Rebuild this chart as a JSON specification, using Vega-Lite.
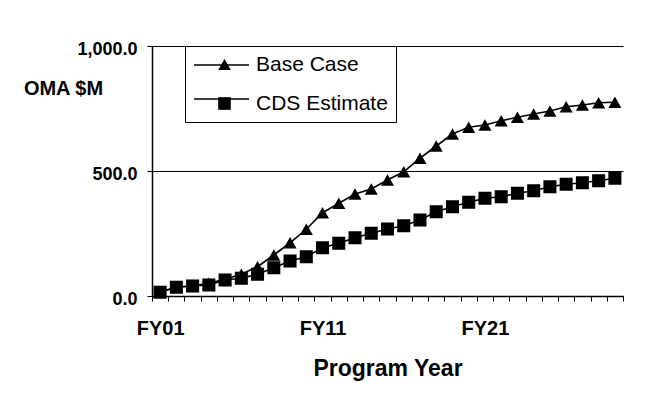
{
  "$schema": "https://vega.github.io/schema/vega-lite/v6.json",
  "width": 471,
  "height": 250,
  "autosize": {"type": "none"},
  "padding": {"left": 152, "top": 46, "right": 28, "bottom": 104},
  "background": "white",
  "config": {
    "view": {"stroke": null},
    "font": "Liberation Sans"
  },
  "data": {
    "values": [
      {"year": "FY01", "series": "Base Case", "value": 17},
      {"year": "FY02", "series": "Base Case", "value": 35},
      {"year": "FY03", "series": "Base Case", "value": 41},
      {"year": "FY04", "series": "Base Case", "value": 51},
      {"year": "FY05", "series": "Base Case", "value": 67},
      {"year": "FY06", "series": "Base Case", "value": 87},
      {"year": "FY07", "series": "Base Case", "value": 117},
      {"year": "FY08", "series": "Base Case", "value": 164},
      {"year": "FY09", "series": "Base Case", "value": 213},
      {"year": "FY10", "series": "Base Case", "value": 267},
      {"year": "FY11", "series": "Base Case", "value": 333},
      {"year": "FY12", "series": "Base Case", "value": 371},
      {"year": "FY13", "series": "Base Case", "value": 408},
      {"year": "FY14", "series": "Base Case", "value": 428},
      {"year": "FY15", "series": "Base Case", "value": 464},
      {"year": "FY16", "series": "Base Case", "value": 497},
      {"year": "FY17", "series": "Base Case", "value": 551},
      {"year": "FY18", "series": "Base Case", "value": 600},
      {"year": "FY19", "series": "Base Case", "value": 648},
      {"year": "FY20", "series": "Base Case", "value": 675},
      {"year": "FY21", "series": "Base Case", "value": 684},
      {"year": "FY22", "series": "Base Case", "value": 701},
      {"year": "FY23", "series": "Base Case", "value": 715},
      {"year": "FY24", "series": "Base Case", "value": 728},
      {"year": "FY25", "series": "Base Case", "value": 740},
      {"year": "FY26", "series": "Base Case", "value": 757},
      {"year": "FY27", "series": "Base Case", "value": 764},
      {"year": "FY28", "series": "Base Case", "value": 773},
      {"year": "FY29", "series": "Base Case", "value": 775},
      {"year": "FY01", "series": "CDS Estimate", "value": 15},
      {"year": "FY02", "series": "CDS Estimate", "value": 35},
      {"year": "FY03", "series": "CDS Estimate", "value": 40},
      {"year": "FY04", "series": "CDS Estimate", "value": 44},
      {"year": "FY05", "series": "CDS Estimate", "value": 64},
      {"year": "FY06", "series": "CDS Estimate", "value": 71},
      {"year": "FY07", "series": "CDS Estimate", "value": 87},
      {"year": "FY08", "series": "CDS Estimate", "value": 113},
      {"year": "FY09", "series": "CDS Estimate", "value": 140},
      {"year": "FY10", "series": "CDS Estimate", "value": 157},
      {"year": "FY11", "series": "CDS Estimate", "value": 193},
      {"year": "FY12", "series": "CDS Estimate", "value": 211},
      {"year": "FY13", "series": "CDS Estimate", "value": 233},
      {"year": "FY14", "series": "CDS Estimate", "value": 251},
      {"year": "FY15", "series": "CDS Estimate", "value": 268},
      {"year": "FY16", "series": "CDS Estimate", "value": 281},
      {"year": "FY17", "series": "CDS Estimate", "value": 304},
      {"year": "FY18", "series": "CDS Estimate", "value": 337},
      {"year": "FY19", "series": "CDS Estimate", "value": 357},
      {"year": "FY20", "series": "CDS Estimate", "value": 375},
      {"year": "FY21", "series": "CDS Estimate", "value": 391},
      {"year": "FY22", "series": "CDS Estimate", "value": 397},
      {"year": "FY23", "series": "CDS Estimate", "value": 411},
      {"year": "FY24", "series": "CDS Estimate", "value": 421},
      {"year": "FY25", "series": "CDS Estimate", "value": 437},
      {"year": "FY26", "series": "CDS Estimate", "value": 447},
      {"year": "FY27", "series": "CDS Estimate", "value": 453},
      {"year": "FY28", "series": "CDS Estimate", "value": 461},
      {"year": "FY29", "series": "CDS Estimate", "value": 471}
    ]
  },
  "encoding": {
    "x": {
      "field": "year",
      "type": "ordinal",
      "sort": null,
      "scale": {"type": "band", "paddingInner": 0, "paddingOuter": 0},
      "axis": {
        "title": "Program Year",
        "titleFontSize": 23,
        "titleFontWeight": "bold",
        "titleColor": "black",
        "titleY": 72,
        "titleBaseline": "middle",
        "labelAngle": 0,
        "labelFontSize": 20,
        "labelFontWeight": "bold",
        "labelColor": "black",
        "labelPadding": 17,
        "labelExpr": "indexof(['FY01','FY11','FY21'], datum.value) >= 0 ? datum.value : ''",
        "labelOverlap": false,
        "tickBand": "extent",
        "tickSize": 5,
        "tickColor": "black",
        "domainColor": "black",
        "domainWidth": 1.5,
        "grid": false
      }
    },
    "y": {
      "field": "value",
      "type": "quantitative",
      "scale": {"domain": [0, 1000], "nice": false},
      "axis": {
        "title": "OMA $M",
        "titleAngle": 0,
        "titleX": -89,
        "titleY": 42,
        "titleAlign": "center",
        "titleBaseline": "middle",
        "titleFontSize": 20,
        "titleFontWeight": "bold",
        "titleColor": "black",
        "values": [0, 500, 1000],
        "format": ",.1f",
        "labelFontSize": 18,
        "labelFontWeight": "bold",
        "labelColor": "black",
        "labelPadding": 10,
        "labelOffset": 3,
        "tickSize": 5,
        "tickColor": "black",
        "domainColor": "black",
        "domainWidth": 1.5,
        "grid": true,
        "gridColor": "black",
        "gridWidth": 1.2,
        "gridOpacity": 1
      }
    }
  },
  "layer": [
    {
      "mark": {"type": "line", "strokeWidth": 1.6},
      "encoding": {
        "color": {
          "field": "series",
          "type": "nominal",
          "scale": {"domain": ["Base Case", "CDS Estimate"], "range": ["black", "black"]},
          "legend": {
            "title": null,
            "orient": "none",
            "legendX": 41,
            "legendY": -9.5,
            "direction": "vertical",
            "padding": 0,
            "rowPadding": -17,
            "symbolType": "stroke",
            "symbolSize": 3025,
            "symbolStrokeWidth": 1.5,
            "symbolOffset": 0,
            "labelOffset": 0,
            "labelFontSize": 10,
            "labelExpr": "''"
          }
        }
      }
    },
    {
      "mark": {"type": "point", "filled": true, "color": "black", "opacity": 1, "size": 170},
      "encoding": {
        "shape": {
          "field": "series",
          "type": "nominal",
          "scale": {"range": ["triangle-up", "square"]},
          "legend": {
            "title": null,
            "orient": "none",
            "legendX": 33,
            "legendY": 0,
            "direction": "vertical",
            "strokeColor": "black",
            "padding": 8,
            "rowPadding": 17,
            "symbolSize": 160,
            "symbolFillColor": "black",
            "symbolStrokeColor": "black",
            "symbolOpacity": 1,
            "symbolOffset": 21,
            "labelOffset": 21,
            "labelFontSize": 21,
            "labelFont": "Liberation Sans",
            "labelColor": "black",
            "labelLimit": 300
          }
        }
      }
    }
  ]
}
